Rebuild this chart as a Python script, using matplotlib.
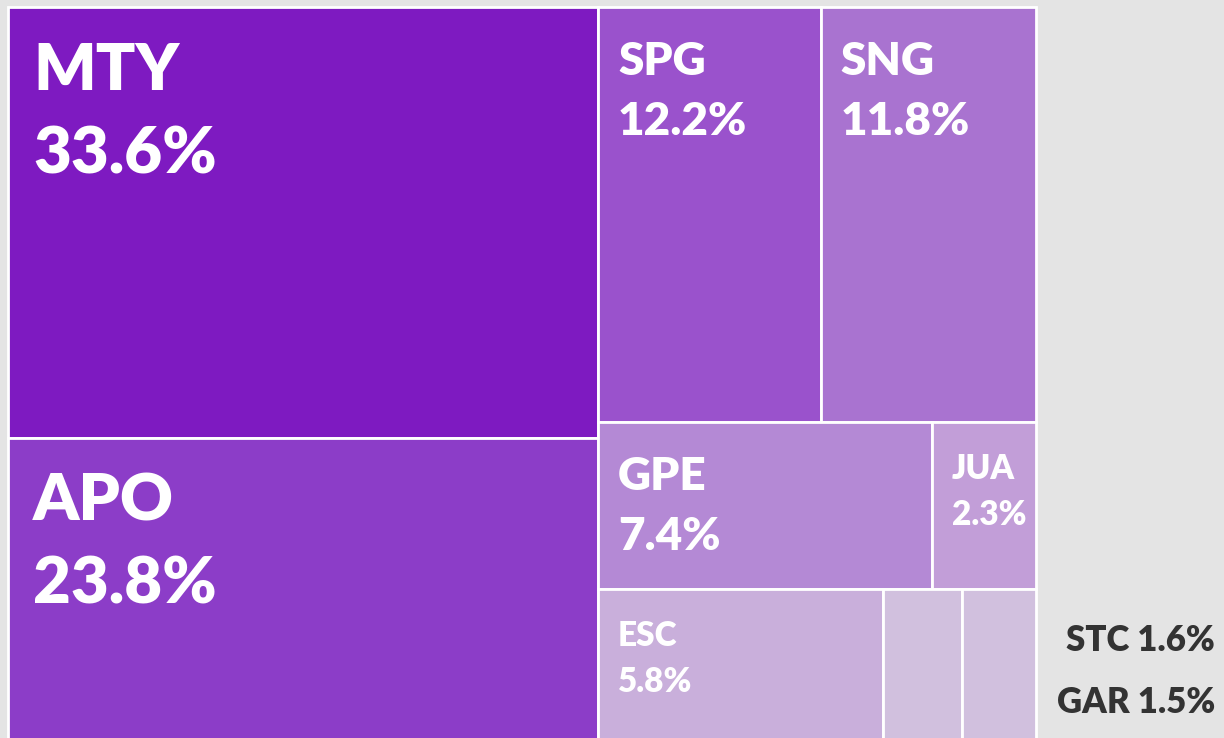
import matplotlib.pyplot as plt
from matplotlib.patches import Rectangle

# participación por municipio
codes = ['MTY', 'APO', 'SPG', 'SNG', 'GPE', 'JUA', 'ESC', 'STC', 'GAR']
shares = [33.6, 23.8, 12.2, 11.8, 7.4, 2.3, 5.8, 1.6, 1.5]
colors = ['#7e1ac1', '#8c3dc8', '#9a52cc', '#a973d0', '#b489d5',
          '#c29ed8', '#c9afdb', '#d1c0de', '#d1c0de']

# arbol de cortes: ('x', hijos) corta en columnas, ('y', hijos) en filas
tree = ('x', [('y', [0, 1]),
              ('y', [('x', [2, 3]),
                     ('y', [('x', [4, 5]),
                            ('x', [6, 7, 8])])])])


def total(node):
    if isinstance(node, int):
        return shares[node]
    return sum(total(c) for c in node[1])


def layout(node, x, y, w, h, out):
    if isinstance(node, int):
        out[node] = (x, y, w, h)
        return
    d, kids = node
    s = total(node)
    pos = 0.0
    for k in kids:
        f = total(k) / s
        if d == 'x':
            layout(k, x + pos * w, y, w * f, h, out)
        else:
            layout(k, x, y + pos * h, w, h * f, out)
        pos += f


rects = {}
layout(tree, 8, 7, 1028, 736, rects)

plt.rcParams['font.family'] = ['Lato', 'DejaVu Sans']
fig = plt.figure(figsize=(12.24, 7.38), dpi=100, facecolor='#e4e4e4')
ax = fig.add_axes([0, 0, 1, 1])
ax.set_xlim(0, 1224)
ax.set_ylim(738, 0)
ax.axis('off')

# tamaño de letra y separaciones segun el peso del municipio
def style(v):
    if v >= 20:
        return 47, 25, 83, 166
    if v >= 7:
        return 33, 20, 68, 128
    return 24, 20, 57, 103

outside = []
for i, (c, v) in enumerate(zip(codes, shares)):
    x, y, w, h = rects[i]
    ax.add_patch(Rectangle((x, y), w, h, facecolor=colors[i],
                           edgecolor='white', linewidth=2))
    if v < 2:
        outside.append(i)
        continue
    fs, dx, b1, b2 = style(v)
    ax.text(x + dx, y + b1, c, color='white', fontsize=fs,
            fontweight='heavy', va='baseline', ha='left')
    ax.text(x + dx, y + b2, f'{v:.1f}%', color='white', fontsize=fs,
            fontweight='heavy', va='baseline', ha='left')

# los mas pequeños se rotulan fuera, a la derecha
for n, i in enumerate(outside):
    ax.text(1215, 651 + n * 62, f'{codes[i]} {shares[i]:.1f}%',
            color='#333333', fontsize=25, fontweight='heavy',
            va='baseline', ha='right')

plt.savefig('out.png', dpi=100, facecolor=fig.get_facecolor())
